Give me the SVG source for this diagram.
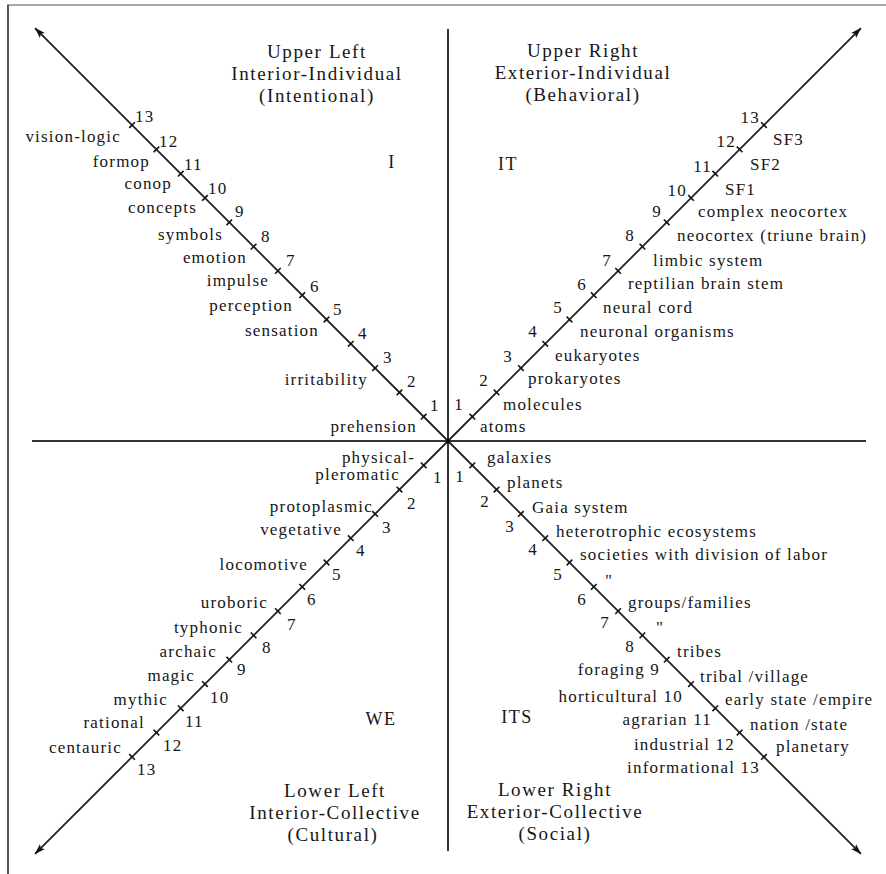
<svg xmlns="http://www.w3.org/2000/svg" width="886" height="874" viewBox="0 0 886 874">
  <style>
    text { font-family: "Liberation Serif", "Times New Roman", serif; fill: #161616; }
    .lb { font-size: 17px; letter-spacing: 1.2px; }
    .hd { font-size: 19px; letter-spacing: 1.6px; text-anchor: middle; }
    .qd { font-size: 18px; letter-spacing: 1.5px; text-anchor: middle; }
    .end { text-anchor: end; }
    .axis { stroke: #222; stroke-width: 1.8; fill: none; }
    .tick { stroke: #111; stroke-width: 1.6; fill: none; }
    .cross { stroke: #333; stroke-width: 2; fill: none; }
  </style>
  <defs>
    <marker id="arrow" viewBox="0 0 11 8" refX="10.5" refY="4" markerWidth="11" markerHeight="8" markerUnits="userSpaceOnUse" orient="auto">
      <path d="M0,0.5 L11,4 L0,7.5 L2.5,4 z" fill="#111"/>
    </marker>
    <!-- one diagonal axis: shaft with arrow and thirteen tick marks -->
    <g id="diag">
      <line class="axis" x1="0" y1="0" x2="584" y2="0" marker-end="url(#arrow)"/>
      <path class="tick" d="M34.4,-4v8M68.7,-4v8M103.1,-4v8M137.5,-4v8M171.8,-4v8M206.2,-4v8M240.6,-4v8M274.9,-4v8M309.3,-4v8M343.7,-4v8M378,-4v8M412.4,-4v8M446.8,-4v8"/>
    </g>
  </defs>

  <rect width="886" height="874" fill="#fff"/>

  <!-- frame edges -->
  <line x1="7" y1="5" x2="886" y2="5" stroke="#a8a8a8" stroke-width="2"/>
  <line x1="8" y1="5" x2="8" y2="874" stroke="#555" stroke-width="2"/>

  <!-- quadrant dividers and diagonals -->
  <g id="connectors">
    <line class="cross" x1="448" y1="29" x2="448" y2="851"/>
    <line class="cross" x1="32" y1="441" x2="866" y2="441"/>
    <use href="#diag" transform="translate(448 441) rotate(225)"/>
    <use href="#diag" transform="translate(448 441) rotate(-45)"/>
    <use href="#diag" transform="translate(448 441) rotate(135)"/>
    <use href="#diag" transform="translate(448 441) rotate(45)"/>
    <circle cx="448" cy="441" r="2.2" fill="#111"/>
  </g>

  <!-- Upper Left quadrant -->
  <g id="upper-left">
    <text class="hd" x="317" y="58">Upper Left</text>
    <text class="hd" x="317" y="80">Interior-Individual</text>
    <text class="hd" x="317" y="102">(Intentional)</text>
    <text class="qd" x="392" y="168">I</text>
    <g class="lb end">
      <text x="121" y="142">vision-logic</text>
      <text x="150" y="167">formop</text>
      <text x="172" y="189">conop</text>
      <text x="197" y="213">concepts</text>
      <text x="223" y="240">symbols</text>
      <text x="247" y="263">emotion</text>
      <text x="269" y="286">impulse</text>
      <text x="293" y="311">perception</text>
      <text x="319" y="336">sensation</text>
      <text x="368" y="385">irritability</text>
      <text x="417" y="432">prehension</text>
    </g>
    <g class="lb">
      <text x="135" y="122">13</text>
      <text x="159" y="147">12</text>
      <text x="184" y="170">11</text>
      <text x="208" y="194">10</text>
      <text x="235" y="217">9</text>
      <text x="261" y="242">8</text>
      <text x="286" y="266">7</text>
      <text x="310" y="292">6</text>
      <text x="333" y="315">5</text>
      <text x="358" y="339">4</text>
      <text x="383" y="363">3</text>
      <text x="407" y="387">2</text>
      <text x="430" y="411">1</text>
    </g>
  </g>

  <!-- Upper Right quadrant -->
  <g id="upper-right">
    <text class="hd" x="583" y="57">Upper Right</text>
    <text class="hd" x="583" y="79">Exterior-Individual</text>
    <text class="hd" x="583" y="101">(Behavioral)</text>
    <text class="qd" x="508" y="170">IT</text>
    <g class="lb end">
      <text x="760" y="123">13</text>
      <text x="736" y="147">12</text>
      <text x="712" y="172">11</text>
      <text x="687" y="196">10</text>
      <text x="662" y="217">9</text>
      <text x="635" y="241">8</text>
      <text x="612" y="266">7</text>
      <text x="587" y="290">6</text>
      <text x="563" y="313">5</text>
      <text x="538" y="337">4</text>
      <text x="513" y="362">3</text>
      <text x="489" y="386">2</text>
      <text x="464" y="410">1</text>
    </g>
    <g class="lb">
      <text x="773" y="145">SF3</text>
      <text x="750" y="170">SF2</text>
      <text x="725" y="195">SF1</text>
      <text x="698" y="217">complex neocortex</text>
      <text x="677" y="241">neocortex (triune brain)</text>
      <text x="653" y="266">limbic system</text>
      <text x="628" y="289">reptilian brain stem</text>
      <text x="603" y="313">neural cord</text>
      <text x="580" y="337">neuronal organisms</text>
      <text x="555" y="361">eukaryotes</text>
      <text x="528" y="384">prokaryotes</text>
      <text x="503" y="410">molecules</text>
      <text x="480" y="432">atoms</text>
    </g>
  </g>

  <!-- Lower Left quadrant -->
  <g id="lower-left">
    <text class="hd" x="335" y="797">Lower Left</text>
    <text class="hd" x="335" y="819">Interior-Collective</text>
    <text class="hd" x="333" y="841">(Cultural)</text>
    <text class="qd" x="381" y="725">WE</text>
    <g class="lb end">
      <text x="415" y="463">physical-</text>
      <text x="400" y="480">pleromatic</text>
      <text x="373" y="512">protoplasmic</text>
      <text x="342" y="535">vegetative</text>
      <text x="308" y="570">locomotive</text>
      <text x="268" y="608">uroboric</text>
      <text x="243" y="633">typhonic</text>
      <text x="217" y="657">archaic</text>
      <text x="195" y="681">magic</text>
      <text x="168" y="705">mythic</text>
      <text x="145" y="728">rational</text>
      <text x="122" y="753">centauric</text>
    </g>
    <g class="lb">
      <text x="433" y="483">1</text>
      <text x="407" y="509">2</text>
      <text x="382" y="533">3</text>
      <text x="356" y="556">4</text>
      <text x="332" y="580">5</text>
      <text x="307" y="605">6</text>
      <text x="287" y="630">7</text>
      <text x="262" y="653">8</text>
      <text x="237" y="675">9</text>
      <text x="210" y="703">10</text>
      <text x="185" y="727">11</text>
      <text x="163" y="751">12</text>
      <text x="137" y="775">13</text>
    </g>
  </g>

  <!-- Lower Right quadrant -->
  <g id="lower-right">
    <text class="hd" x="555" y="796">Lower Right</text>
    <text class="hd" x="555" y="818">Exterior-Collective</text>
    <text class="hd" x="555" y="840">(Social)</text>
    <text class="qd" x="517" y="723">ITS</text>
    <g class="lb">
      <text x="487" y="463">galaxies</text>
      <text x="507" y="488">planets</text>
      <text x="532" y="513">Gaia system</text>
      <text x="556" y="537">heterotrophic ecosystems</text>
      <text x="580" y="560">societies with division of labor</text>
      <text x="605" y="586">"</text>
      <text x="628" y="608">groups/families</text>
      <text x="656" y="633">"</text>
      <text x="677" y="657">tribes</text>
      <text x="700" y="682">tribal /village</text>
      <text x="725" y="705">early state /empire</text>
      <text x="750" y="730">nation /state</text>
      <text x="776" y="752">planetary</text>
    </g>
    <g class="lb end">
      <text x="465" y="482">1</text>
      <text x="490" y="507">2</text>
      <text x="515" y="532">3</text>
      <text x="538" y="555">4</text>
      <text x="563" y="580">5</text>
      <text x="587" y="605">6</text>
      <text x="610" y="628">7</text>
      <text x="635" y="652">8</text>
      <text x="660" y="675">foraging 9</text>
      <text x="683" y="702">horticultural 10</text>
      <text x="712" y="725">agrarian 11</text>
      <text x="735" y="750">industrial 12</text>
      <text x="760" y="773">informational 13</text>
    </g>
  </g>
</svg>
